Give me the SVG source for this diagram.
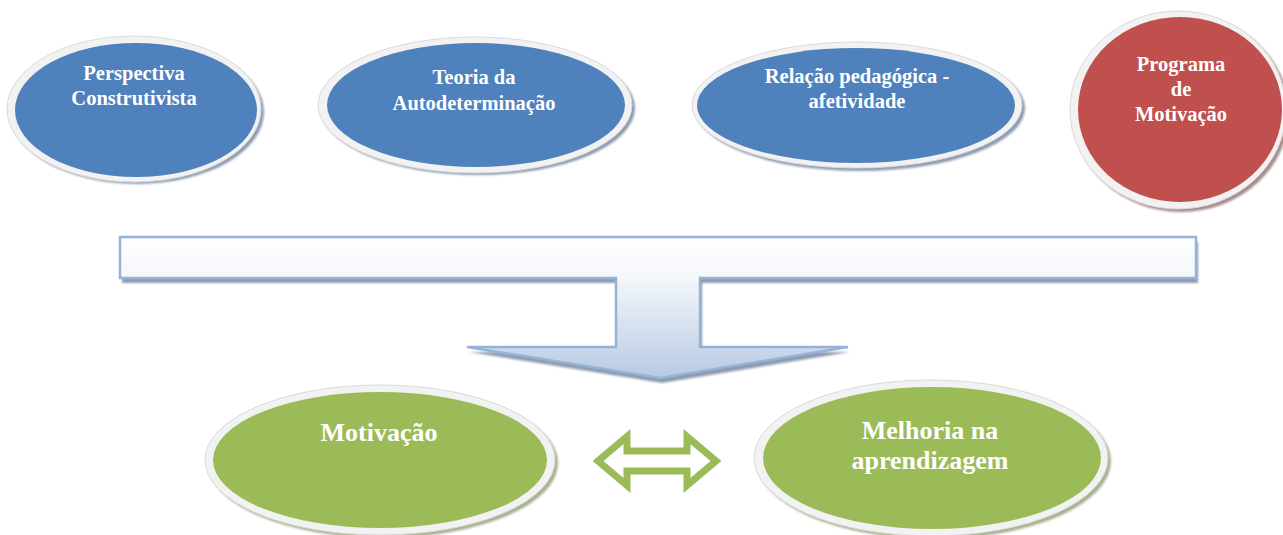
<svg xmlns="http://www.w3.org/2000/svg" width="1283" height="535" viewBox="0 0 1283 535">
<defs>
<linearGradient id="arrowGrad" gradientUnits="userSpaceOnUse" x1="0" y1="237" x2="0" y2="378">
<stop offset="0" stop-color="#ffffff"/>
<stop offset="0.3" stop-color="#f3f6fa"/>
<stop offset="1" stop-color="#b7cae3"/>
</linearGradient>
<filter id="soft" x="-10%" y="-10%" width="120%" height="120%">
<feGaussianBlur stdDeviation="1"/>
</filter>
</defs>
<style>
.rim{fill:#f2f2f2;stroke:#dadada;stroke-width:1}
.shB{fill:#8b9bb3}
.shR{fill:#a88a8a}
.shG{fill:#a7b18f}
.blue{fill:#4f81bd}
.red{fill:#c0504d}
.green{fill:#9bbb59}
.t1{font-family:"Liberation Serif","Times New Roman",serif;font-weight:bold;font-size:20.5px;fill:#ffffff;text-anchor:middle}
.t2{font-family:"Liberation Serif","Times New Roman",serif;font-weight:bold;font-size:26px;fill:#ffffff;text-anchor:middle}
</style>

<g id="connectors">
<g id="t-arrow">
<path d="M120,237 H1196 V278 H700 V347 H848 L660,378 L467,347 H616 V278 H120 Z" fill="#8d9bb0" transform="translate(2,5)" filter="url(#soft)"/>
<path d="M120,237 H1196 V278 H700 V347 H848 L660,378 L467,347 H616 V278 H120 Z" fill="url(#arrowGrad)" stroke="#95b3d7" stroke-width="2.5" stroke-linejoin="miter"/>
</g>
<g id="double-arrow">
<path d="M598,461 L627,436.5 V451 H687 V436.5 L716,461 L687,485.5 V471 H627 V485.5 Z" fill="#ffffff" stroke="#9bbb59" stroke-width="7" stroke-linejoin="miter" stroke-miterlimit="10"/>
</g>
</g>

<g id="node-perspectiva">
<ellipse cx="137" cy="112" rx="127" ry="72" class="shB" filter="url(#soft)"/>
<ellipse cx="134" cy="109" rx="127" ry="73" class="rim"/>
<ellipse cx="136" cy="110" rx="121" ry="67" class="blue"/>
<text class="t1" x="134" y="80">Perspectiva</text>
<text class="t1" x="134" y="105">Construtivista</text>
</g>

<g id="node-teoria">
<ellipse cx="478" cy="108" rx="157" ry="67" class="shB" filter="url(#soft)"/>
<ellipse cx="475" cy="105" rx="157" ry="68" class="rim"/>
<ellipse cx="476" cy="105" rx="149" ry="62" class="blue"/>
<text class="t1" x="474" y="84">Teoria da</text>
<text class="t1" x="474" y="110">Autodeterminação</text>
</g>

<g id="node-relacao">
<ellipse cx="860" cy="108" rx="165" ry="63" class="shB" filter="url(#soft)"/>
<ellipse cx="857" cy="105" rx="165" ry="63" class="rim"/>
<ellipse cx="856" cy="105.5" rx="159" ry="57.5" class="blue"/>
<text class="t1" x="857" y="83">Relação pedagógica -</text>
<text class="t1" x="857" y="108">afetividade</text>
</g>

<g id="node-programa">
<ellipse cx="1181" cy="113" rx="108" ry="99" class="shR" filter="url(#soft)"/>
<ellipse cx="1178" cy="110" rx="108" ry="99" class="rim"/>
<ellipse cx="1180" cy="109.5" rx="102" ry="92.5" class="red"/>
<text class="t1" x="1181" y="71">Programa</text>
<text class="t1" x="1181" y="96">de</text>
<text class="t1" x="1181" y="121">Motivação</text>
</g>

<g id="node-motivacao">
<ellipse cx="383" cy="463" rx="175" ry="75" class="shG" filter="url(#soft)"/>
<ellipse cx="380" cy="460" rx="175" ry="75" class="rim"/>
<ellipse cx="380" cy="460" rx="167" ry="68" class="green"/>
<text class="t2" x="379" y="441">Motivação</text>
</g>

<g id="node-melhoria">
<ellipse cx="934" cy="461" rx="177" ry="78" class="shG" filter="url(#soft)"/>
<ellipse cx="931" cy="458" rx="177" ry="78" class="rim"/>
<ellipse cx="932" cy="458" rx="169" ry="71" class="green"/>
<text class="t2" x="930" y="439">Melhoria na</text>
<text class="t2" x="930" y="469">aprendizagem</text>
</g>
</svg>
